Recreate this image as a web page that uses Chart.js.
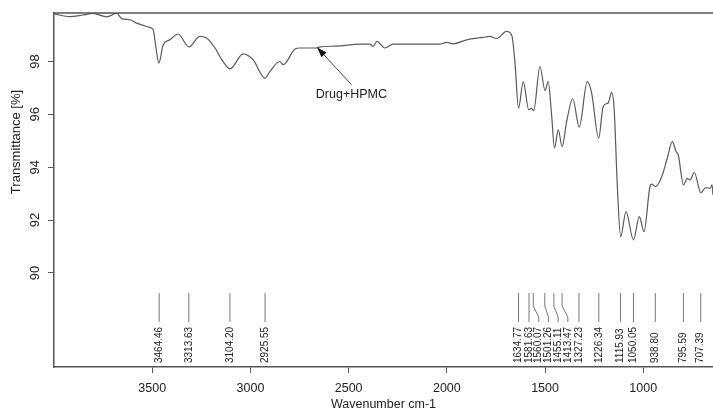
<!DOCTYPE html>
<html>
<head>
<meta charset="utf-8">
<script src="https://cdn.jsdelivr.net/npm/chart.js@4"></script>
<style>
  html, body { margin: 0; padding: 0; background: #fff; }
  #wrap { width: 713px; height: 412px; }
</style>
</head>
<body>
<div id="wrap"><canvas id="ftir-chart"></canvas></div>
<script>
// Spectrum (wavenumber cm-1 / transmittance %)
const wavenumbers = [4000, 3919, 3853, 3802, 3731, 3680, 3656, 3614, 3579, 3512, 3495, 3481, 3466, 3444, 3410, 3368,
    3313, 3257, 3223, 3181, 3145, 3104, 3037, 2986, 2926, 2901, 2850, 2833, 2773, 2748, 2672, 2646, 2544, 2442, 2392,
    2375, 2357, 2315, 2273, 2154, 2035, 2001, 1967, 1899, 1815, 1781, 1746, 1696, 1679, 1667, 1653, 1635, 1611, 1583,
    1568, 1558, 1526, 1500, 1484, 1466, 1452, 1433, 1413, 1390, 1359, 1326, 1285, 1263, 1227, 1204, 1178, 1161, 1148,
    1132, 1115, 1088, 1050, 1020, 996, 966, 957, 938, 906, 878, 852, 833, 822, 795, 776, 762, 740, 707, 681, 660, 650, 645];
const transmittance = [99.80, 99.70, 99.76, 99.82, 99.69, 99.83, 99.62, 99.58, 99.45, 99.29, 99.20, 98.52, 97.94, 98.63,
    98.82, 99.04, 98.55, 98.95, 98.89, 98.52, 98.06, 97.72, 98.29, 98.06, 97.37, 97.62, 98.00, 97.88, 98.47, 98.51, 98.51,
    98.55, 98.59, 98.66, 98.66, 98.57, 98.76, 98.51, 98.66, 98.66, 98.66, 98.72, 98.67, 98.82, 98.91, 98.95, 98.87, 99.14,
    99.09, 98.92, 97.94, 96.23, 97.24, 96.17, 96.23, 96.14, 97.81, 96.90, 97.24, 95.92, 94.72, 95.41, 94.78, 95.73, 96.59,
    95.52, 97.24, 96.81, 95.10, 96.30, 96.44, 96.83, 96.17, 93.27, 91.37, 92.32, 91.25, 92.13, 91.56, 93.27, 93.36, 93.27,
    93.64, 94.34, 94.97, 94.59, 94.47, 93.33, 93.58, 93.52, 93.80, 93.04, 93.23, 93.20, 93.33, 92.95];

// Picked peaks
const peakLabels = ['3464.46', '3313.63', '3104.20', '2925.55', '1634.77', '1581.63', '1560.07', '1501.26',
    '1455.11', '1413.47', '1327.23', '1226.34', '1115.93', '1050.05', '938.80', '795.59', '707.39'];

const xTicks = [1000, 1500, 2000, 2500, 3000, 3500];
const yTicks = [90, 92, 94, 96, 98];
const sampleName = 'Drug+HPMC';

const FONT = "'Liberation Sans', Arial, sans-serif";
const AXIS_COLOR = '#555';
const TEXT_COLOR = '#222';

// Extras drawn on top: top frame line, rotated y labels, peak markers, sample arrow
const ftirDecor = {
    id: 'ftirDecor',
    afterDraw(chart) {
        const ctx = chart.ctx;
        const area = chart.chartArea;
        const xs = chart.scales.x;
        const ys = chart.scales.y;

        ctx.save();
        // top frame
        ctx.strokeStyle = AXIS_COLOR;
        ctx.lineWidth = 1.5;
        ctx.beginPath();
        ctx.moveTo(area.left, area.top);
        ctx.lineTo(area.right, area.top);
        ctx.stroke();

        // y tick labels, rotated like the original
        ctx.fillStyle = TEXT_COLOR;
        ctx.font = '13px ' + FONT;
        ctx.textAlign = 'center';
        ctx.textBaseline = 'middle';
        yTicks.forEach(v => {
            ctx.save();
            ctx.translate(35, ys.getPixelForValue(v));
            ctx.rotate(-Math.PI / 2);
            ctx.fillText(String(v), 0, 0);
            ctx.restore();
        });

        // y axis title
        ctx.save();
        ctx.translate(16, 142);
        ctx.rotate(-Math.PI / 2);
        ctx.fillText('Transmittance [%]', 0, 0);
        ctx.restore();

        // peak markers
        const pts = peakLabels.map(s => ({ s: s, px: xs.getPixelForValue(parseFloat(s)) }))
            .sort((a, b) => a.px - b.px);
        let last = -Infinity;
        pts.forEach(p => { p.lx = Math.max(p.px, last + 9.7); last = p.lx; });

        const b = area.bottom;
        ctx.strokeStyle = '#777';
        ctx.lineWidth = 1;
        ctx.font = '10px ' + FONT;
        ctx.textAlign = 'left';
        ctx.textBaseline = 'middle';
        pts.forEach(p => {
            ctx.beginPath();
            ctx.moveTo(p.px, b - 74);
            if (Math.abs(p.lx - p.px) > 0.5) {
                ctx.lineTo(p.px, b - 61);
                ctx.lineTo(p.lx, b - 50);
            }
            ctx.lineTo(p.lx, b - 45);
            ctx.stroke();

            ctx.save();
            ctx.translate(p.lx, b - 4);
            ctx.rotate(-Math.PI / 2);
            ctx.fillText(p.s, 0, 0);
            ctx.restore();
        });

        // sample label with arrow
        const tipX = xs.getPixelForValue(2660), tipY = ys.getPixelForValue(98.53);
        const tailX = xs.getPixelForValue(2485), tailY = ys.getPixelForValue(97.12);
        ctx.strokeStyle = '#444';
        ctx.fillStyle = '#111';
        ctx.lineWidth = 1;
        ctx.beginPath();
        ctx.moveTo(tailX, tailY);
        ctx.lineTo(tipX, tipY);
        ctx.stroke();
        const ang = Math.atan2(tipY - tailY, tipX - tailX);
        const hl = 10, hw = 3.5;
        ctx.beginPath();
        ctx.moveTo(tipX, tipY);
        ctx.lineTo(tipX - hl * Math.cos(ang) + hw * Math.sin(ang), tipY - hl * Math.sin(ang) - hw * Math.cos(ang));
        ctx.lineTo(tipX - hl * Math.cos(ang) - hw * Math.sin(ang), tipY - hl * Math.sin(ang) + hw * Math.cos(ang));
        ctx.closePath();
        ctx.fill();

        ctx.fillStyle = TEXT_COLOR;
        ctx.font = '12.5px ' + FONT;
        ctx.textAlign = 'center';
        ctx.fillText(sampleName, xs.getPixelForValue(2486), ys.getPixelForValue(96.74));
        ctx.restore();
    }
};

const spectrumConfig = {
    type: 'line',
    data: {
        datasets: [{
            data: wavenumbers.map((w, i) => ({ x: w, y: transmittance[i] })),
            borderColor: '#5a5a5a',
            borderWidth: 1.2,
            pointRadius: 0,
            cubicInterpolationMode: 'monotone',
            fill: false
        }]
    },
    options: {
        animation: false,
        responsive: true,
        maintainAspectRatio: false,
        layout: { padding: { top: 13, right: 0, bottom: 0, left: 0 } },
        plugins: {
            legend: { display: false },
            tooltip: { enabled: false }
        },
        scales: {
            x: {
                type: 'linear',
                reverse: true,
                min: 645,
                max: 4000,
                afterBuildTicks: s => { s.ticks = xTicks.map(v => ({ value: v })); },
                afterFit: s => { s.height = 45; },
                grid: { drawOnChartArea: false, drawTicks: true, tickLength: 6, color: AXIS_COLOR },
                border: { color: AXIS_COLOR, width: 1.5 },
                ticks: {
                    color: TEXT_COLOR,
                    font: { family: FONT, size: 12.5 },
                    padding: 8,
                    maxRotation: 0,
                    callback: v => String(v)
                },
                title: {
                    display: true,
                    text: 'Wavenumber cm-1',
                    color: TEXT_COLOR,
                    font: { family: FONT, size: 12.5 },
                    padding: { top: 0, bottom: 0 }
                }
            },
            y: {
                min: 86.44,
                max: 99.835,
                afterBuildTicks: s => { s.ticks = yTicks.map(v => ({ value: v })); },
                afterFit: s => { s.width = 54; },
                grid: { drawOnChartArea: false, drawTicks: true, tickLength: 6, color: AXIS_COLOR },
                border: { color: AXIS_COLOR, width: 1.5 },
                ticks: { display: false }
            }
        }
    },
    plugins: [ftirDecor]
};

const spectrumChart = new Chart(document.getElementById('ftir-chart'), spectrumConfig);
</script>
</body>
</html>
